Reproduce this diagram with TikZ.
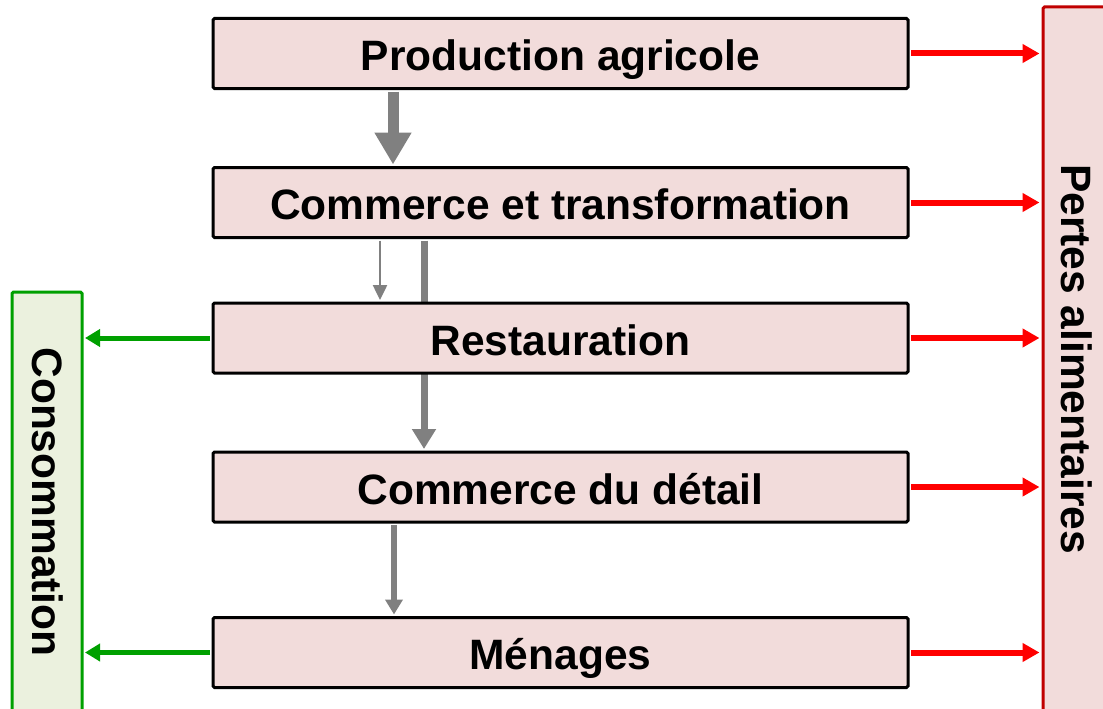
\documentclass[tikz,border=0pt]{standalone}
\usepackage{fontspec}
\setmainfont{Liberation Sans}
\usetikzlibrary{arrows.meta,backgrounds}
\definecolor{boxfill}{HTML}{F2DCDB}
\definecolor{consfill}{HTML}{EBF1DE}
\definecolor{flowgray}{HTML}{808080}
\definecolor{lossred}{HTML}{FF0000}
\definecolor{lossborder}{HTML}{C00000}
\definecolor{consgreen}{HTML}{00A000}
\begin{document}
\begin{tikzpicture}[x=1pt,y=-1pt,
  bigfont/.style={font=\fontsize{42.5}{50}\selectfont\bfseries},
  stage/.style={draw=black, line width=3pt, fill=boxfill, rounded corners=1.5pt,
    minimum width=695pt, minimum height=70pt, inner sep=0pt, bigfont,
    text height=34pt, text depth=0pt},
  sidebox/.style={line width=3pt, rounded corners=1.5pt, inner sep=0pt, minimum width=70pt},
  sidelabel/.style={rotate=-90, inner sep=0pt, bigfont},
  lossarrow/.style={draw=lossred, line width=6pt, shorten <=1.5pt, shorten >=2pt,
    -{Triangle[length=17pt,width=18pt]}},
  consarrow/.style={draw=consgreen, line width=5pt, shorten <=1.5pt, shorten >=1.5pt,
    -{Triangle[length=15pt,width=17pt]}},
  flow/.style={draw=flowgray, shorten <=1.5pt, shorten >=1.5pt}
]
\useasboundingbox (0,0) rectangle (1103,709);
\clip (0,0) rectangle (1103,709);

% side panels
\node[sidebox, draw=lossborder, fill=boxfill, minimum height=723pt] (pertes) at (1078,368.5) {};
\node[sidelabel] at (1077,359) {Pertes alimentaires};
\node[sidebox, draw=consgreen, fill=consfill, minimum height=438pt] (cons) at (47,511) {};
\node[sidelabel] at (48,502) {Consommation};

% chain stages
\node[stage] (prod) at (560.5,53.5) {Production agricole};
\node[stage] (comm) at (560.5,202.5) {Commerce et transformation};
\node[stage] (rest) at (560.5,338) {Restauration};
\node[stage] (det)  at (560.5,487) {Commerce du détail};
\node[stage] (men)  at (560.5,652.5) {Ménages};

% flows between stages
\draw[flow, line width=11pt, -{Triangle[length=32pt,width=35pt]}]
  ([xshift=-167.5pt]prod.south) -- ([xshift=-167.5pt]comm.north);
\draw[flow, line width=2.5pt, -{Triangle[length=15pt,width=14pt]}]
  ([xshift=-180.5pt]comm.south) -- ([xshift=-180.5pt]rest.north);
\begin{scope}[on background layer]
  \draw[flow, line width=7pt, -{Triangle[length=20pt,width=23pt]}]
    ([xshift=-136.5pt]comm.south) -- ([xshift=-136.5pt]det.north);
\end{scope}
\draw[flow, line width=6pt, -{Triangle[length=15pt,width=17pt]}]
  ([xshift=-166.5pt]det.south) -- ([xshift=-166.5pt]men.north);

% losses
\foreach \s in {prod,comm,rest,det,men}
  \draw[lossarrow] (\s.east) -- (\s.east -| pertes.west);

% consumption
\foreach \s in {rest,men}
  \draw[consarrow] (\s.west) -- (\s.west -| cons.east);
\end{tikzpicture}
\end{document}
